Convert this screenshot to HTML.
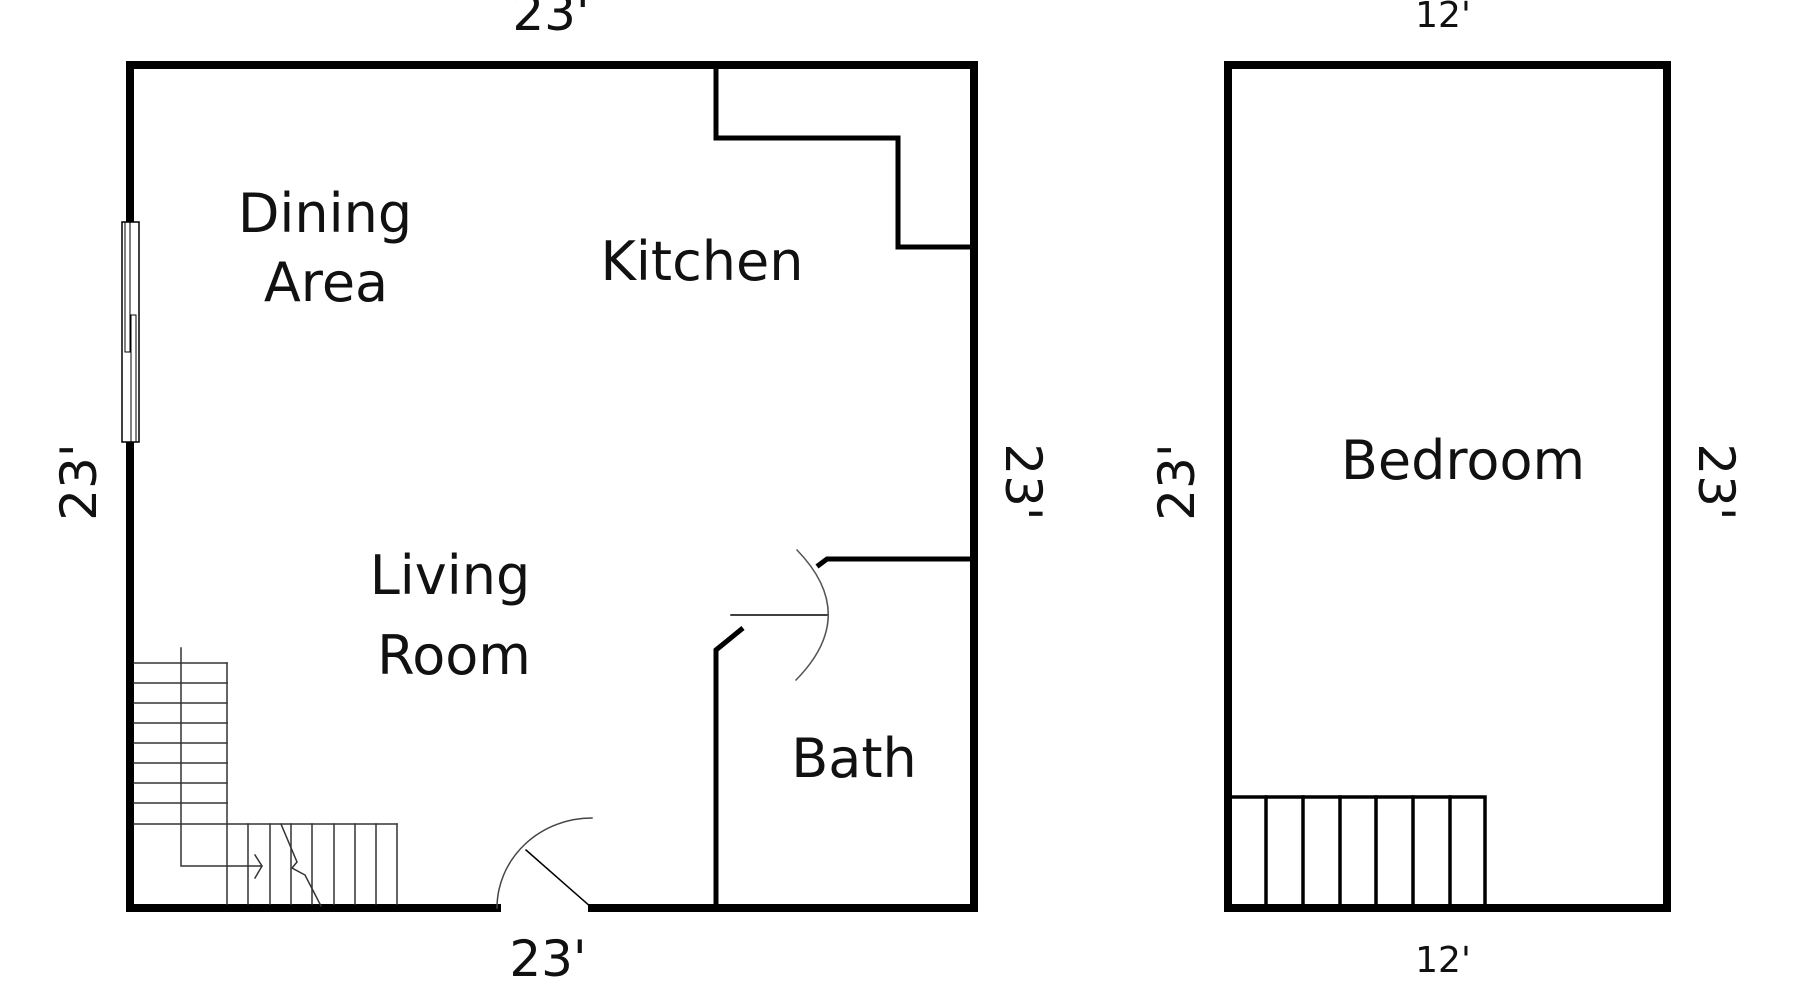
<!DOCTYPE html>
<html><head><meta charset="utf-8"><style>
html,body{margin:0;padding:0;background:#fff;}
svg{display:block}
text{font-family:"DejaVu Sans","Liberation Sans",sans-serif;fill:#111;}
</style></head><body>
<svg width="1800" height="1000" viewBox="0 0 1800 1000" xmlns="http://www.w3.org/2000/svg">
<g fill="none" stroke="#000" stroke-linecap="square">
<!-- main outer walls -->
<path d="M130 65 H974 V908 H592 M497 908 H130 V442 M130 221 V65" stroke-width="8"/>
<!-- window -->
<rect x="122" y="222" width="17" height="220" stroke-width="1.5" fill="#fff"/>
<rect x="125" y="222" width="5" height="130" stroke-width="1" fill="none"/>
<rect x="131" y="315" width="5" height="127" stroke-width="1" fill="none"/>
<!-- kitchen wall -->
<path d="M716 65 V138 H898 V247 H974" stroke-width="5"/>
<!-- bath walls -->
<path d="M974 559 H827 L819 565" stroke-width="5"/>
<path d="M716 908 V650 L743 628" stroke-width="5" stroke-linecap="butt"/>
<line x1="731" y1="615" x2="827" y2="615" stroke-width="1.5"/>
<path d="M797 550 Q860 615 796 680" stroke-width="1.5" stroke="#555"/>
<!-- entry door -->
<path d="M497 908 A95 90 0 0 1 592 818" stroke-width="1.5" stroke="#444"/>
<line x1="526" y1="850" x2="592" y2="908" stroke-width="1.5"/>
<!-- stairs -->
<g stroke-width="1.5" stroke="#333">
<line x1="134" y1="663" x2="227" y2="663"/><line x1="134" y1="683" x2="227" y2="683"/>
<line x1="134" y1="703" x2="227" y2="703"/><line x1="134" y1="723" x2="227" y2="723"/>
<line x1="134" y1="743" x2="227" y2="743"/><line x1="134" y1="763" x2="227" y2="763"/>
<line x1="134" y1="783" x2="227" y2="783"/><line x1="134" y1="803" x2="227" y2="803"/>
<line x1="134" y1="824" x2="397" y2="824"/>
<line x1="227" y1="663" x2="227" y2="904"/>
<line x1="248" y1="824" x2="248" y2="904"/><line x1="270" y1="824" x2="270" y2="904"/>
<line x1="291" y1="824" x2="291" y2="904"/><line x1="312" y1="824" x2="312" y2="904"/>
<line x1="334" y1="824" x2="334" y2="904"/><line x1="355" y1="824" x2="355" y2="904"/>
<line x1="376" y1="824" x2="376" y2="904"/><line x1="397" y1="824" x2="397" y2="904"/>
<path d="M181 648 V866 H262 M255 855 L262 866 L255 878"/>
<path d="M281 824 L297 862 L292 868 L305 875 L321 906"/>
</g>
<!-- bedroom -->
<rect x="1228" y="65" width="439" height="843" stroke-width="8"/>
<g stroke-width="3.5">
<path d="M1228 797 H1485 V908"/>
<line x1="1266" y1="797" x2="1266" y2="908"/><line x1="1303" y1="797" x2="1303" y2="908"/>
<line x1="1340" y1="797" x2="1340" y2="908"/><line x1="1376" y1="797" x2="1376" y2="908"/>
<line x1="1413" y1="797" x2="1413" y2="908"/><line x1="1450" y1="797" x2="1450" y2="908"/>
</g>
</g>
<g text-anchor="middle" font-size="50">
<text x="551" y="30">23'</text>
<text x="548" y="976">23'</text>
<text x="1443" y="27" font-size="36">12'</text>
<text x="1443" y="972" font-size="36">12'</text>
<text transform="translate(96,482) rotate(-90)">23'</text>
<text transform="translate(1006,482) rotate(90)">23'</text>
<text transform="translate(1194,482) rotate(-90)">23'</text>
<text transform="translate(1699,482) rotate(90)">23'</text>
<g font-size="54">
<text x="325" y="232">Dining</text>
<text x="326" y="301">Area</text>
<text x="702" y="280">Kitchen</text>
<text x="450" y="594">Living</text>
<text x="454" y="674">Room</text>
<text x="854" y="777">Bath</text>
<text x="1463" y="479">Bedroom</text>
</g>
</g>
</svg>
</body></html>
